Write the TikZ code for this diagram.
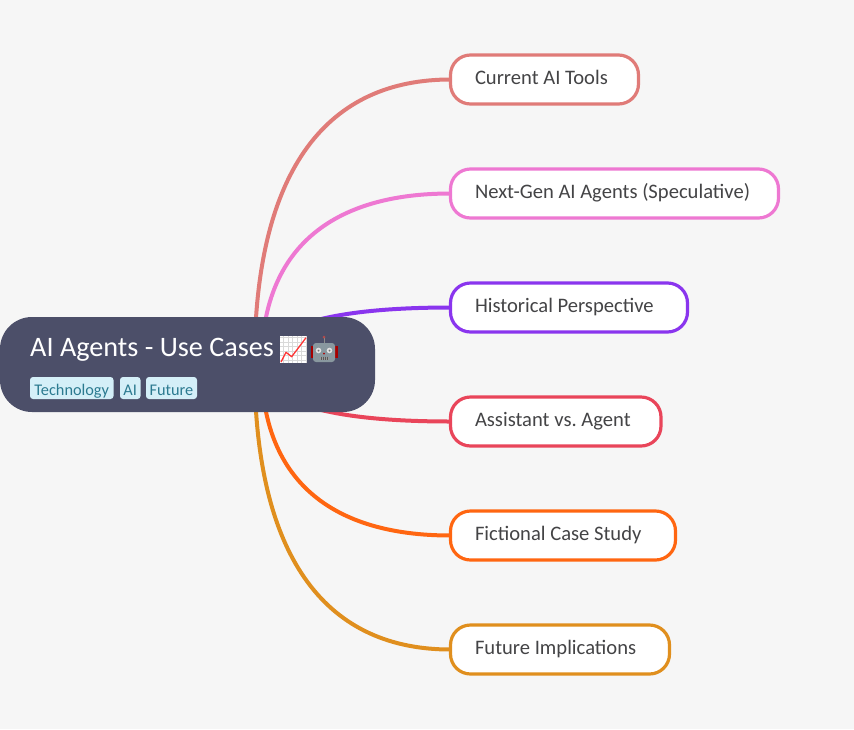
\documentclass[tikz,border=0pt]{standalone}
\usepackage{fontspec}
\setmainfont{Carlito}
\usetikzlibrary{backgrounds}
\frenchspacing
\definecolor{pagebg}{HTML}{F6F6F6}
\definecolor{rootbg}{HTML}{4C4F69}
\definecolor{tagbg}{HTML}{D4EFF8}
\definecolor{tagtx}{HTML}{2B7A90}
\definecolor{bodytx}{HTML}{444446}
\definecolor{c1}{HTML}{E07B78}
\definecolor{c2}{HTML}{EE78D2}
\definecolor{c3}{HTML}{8A35EE}
\definecolor{c4}{HTML}{E9455A}
\definecolor{c5}{HTML}{FF6611}
\definecolor{c6}{HTML}{E08F1E}
\tikzset{
  topic/.style={draw=#1,line width=3.2pt,fill=white,rounded corners=20pt,anchor=west,outer sep=0pt,
    inner xsep=24.5pt,inner ysep=0pt,minimum height=49pt,text=bodytx,
    font=\fontsize{20.6pt}{24pt}\selectfont,text height=14pt,text depth=5pt},
  branch/.style={draw=#1,line width=4pt},
  tagbox/.style={fill=tagbg,text=tagtx,rounded corners=3pt,anchor=west,outer sep=0pt,inner xsep=0pt,inner ysep=0pt,
    minimum height=22pt,font=\fontsize{16.3pt}{19pt}\selectfont,text height=15pt,text depth=1pt}
}
\begin{document}
\begin{tikzpicture}[x=1pt,y=-1pt]
\useasboundingbox (0,0) rectangle (854,729);
\begin{scope}[on background layer]
\fill[pagebg] (0,0) rectangle (854,729);
\end{scope}
\node[topic=c1] (n1) at (450.5,79.5) {\makebox[139pt][l]{Current AI Tools}};
\node[topic=c2] (n2) at (450.5,193.5) {\makebox[279pt][l]{Next-Gen AI Agents (Speculative)}};
\node[topic=c3] (n3) at (450.5,307.5) {\makebox[188pt][l]{Historical Perspective}};
\node[topic=c4] (n4) at (450.5,421.5) {\makebox[161.5pt][l]{Assistant vs. Agent}};
\node[topic=c5] (n5) at (450.5,535.5) {\makebox[176pt][l]{Fictional Case Study}};
\node[topic=c6] (n6) at (450.5,649.5) {\makebox[170pt][l]{Future Implications}};
\node[fill=rootbg,rounded corners=32pt,minimum width=375pt,minimum height=95pt,outer sep=0pt,inner sep=0pt] (root) at (187.5,364.5) {};
\node[anchor=base west,inner sep=0pt,text=white,font=\fontsize{28.2pt}{32pt}\selectfont] (title) at (30,356.5) {AI Agents - Use Cases};
\node[tagbox,minimum width=83.5pt] (t1) at (30,388) {Technology};
\node[tagbox,minimum width=20.5pt] (t2) at (120,388) {AI};
\node[tagbox,minimum width=51pt] (t3) at (146,388) {Future};
\begin{scope}[on background layer]
\draw[branch=c1] ([xshift=67pt]root.center) .. controls +(0,-200) and +(-120,0) .. (n1.west);
\draw[branch=c2] ([xshift=74pt]root.center) .. controls +(0,-115) and +(-120,0) .. (n2.west);
\draw[branch=c3] ([xshift=74pt]root.center) .. controls +(0,-38) and +(-120,0) .. (n3.west);
\draw[branch=c4] ([xshift=74pt]root.center) .. controls +(0,38) and +(-120,0) .. (n4.west);
\draw[branch=c5] ([xshift=74pt]root.center) .. controls +(0,115) and +(-120,0) .. (n5.west);
\draw[branch=c6] ([xshift=67pt]root.center) .. controls +(0,200) and +(-120,0) .. (n6.west);
\end{scope}
% chart emoji
\fill[white] (280,336) rectangle (307,363);
\draw[black!15,line width=0.4pt,step=4.5pt] (280,336) grid (307,363);
\draw[red!80!white,line width=1.3pt,line join=round] (281,362) -- (286,352.3) -- (291.7,356.7) -- (306,337.7);
% robot emoji
\fill[red!65!black] (310.5,346) rectangle (313,358);
\fill[red!65!black] (335,346) rectangle (337.5,358);
\draw[black!45,line width=1pt] (324,337) -- (324,344);
\fill[red!40!gray] (324,337) circle (1.5);
\fill[rounded corners=3pt,fill=gray!85!cyan] (313,343) rectangle (335,362);
\fill[black!12] (318.5,350.5) circle (2.8);
\fill[black!12] (329.5,350.5) circle (2.8);
\fill[black!55] (318.5,350.5) circle (1);
\fill[black!55] (329.5,350.5) circle (1);
\fill[red!70!black] (324,353.5) circle (1);
\fill[black!40] (319.5,356.5) rectangle (328.5,359.5);
\foreach \i in {321,323,325,327}{\draw[black!65,line width=0.5pt] (\i,356.5) -- (\i,359.5);}
\end{tikzpicture}
\end{document}
